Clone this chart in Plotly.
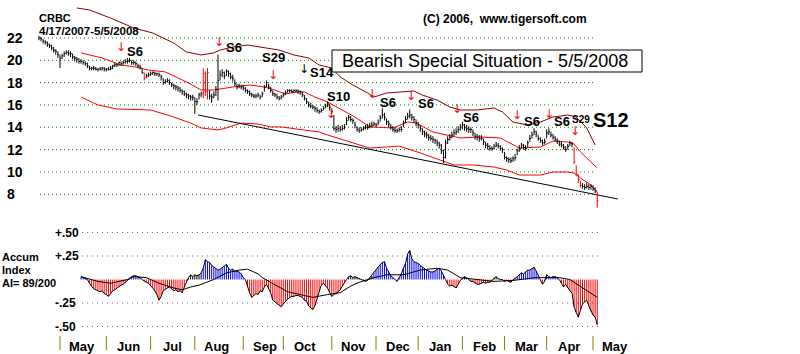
import plotly.graph_objects as go

W, H = 800, 354

# ---------------- data ----------------
months = ["May", "Jun", "Jul", "Aug", "Sep", "Oct", "Nov", "Dec", "Jan", "Feb", "Mar", "Apr", "May"]
month_start = [10, 32, 53, 74, 97, 116, 139, 160, 180, 201, 221, 241, 263]  # trading-day index

price_ticks = [22, 20, 18, 16, 14, 12, 10, 8]
ai_ticks = [0.5, 0.25, -0.25, -0.5]
ai_tick_labels = ["+.50", "+.25", "-.25", "-.50"]

# daily bars 4/17/2007 .. 5/5/2008 (index 0..265)
hi = [
    22.2, 22.1, 21.9, 21.8, 21.7, 21.5, 21.4, 21.2, 21.0, 20.8,
    20.5, 20.6, 20.8, 20.9, 20.9, 20.8, 20.6, 20.4, 20.3, 20.2,
    20.1, 20.0, 19.9, 19.8, 19.5, 19.4, 19.5, 19.4, 19.3, 19.4,
    19.4, 19.4, 19.3, 19.4, 19.5, 19.6, 19.8, 19.7, 19.9, 19.9,
    20.0, 20.1, 20.2, 20.2, 20.0, 20.0, 19.9, 19.7, 19.6, 19.3,
    18.9, 18.8, 18.9, 19.0, 19.0, 19.0, 18.9, 18.9, 18.7, 18.4,
    18.3, 18.4, 18.3, 18.0, 17.9, 17.8, 17.7, 17.6, 17.4, 17.3,
    17.1, 17.0, 16.9, 16.9, 16.7, 16.6, 17.1, 17.2, 19.3, 19.0,
    19.3, 17.3, 17.0, 17.2, 17.7, 20.5, 19.1, 19.2, 19.0, 19.2,
    19.1, 18.9, 18.7, 18.3, 17.9, 17.9, 17.8, 17.8, 17.6, 17.4,
    17.3, 17.1, 17.0, 17.0, 17.1, 16.9, 17.2, 17.8, 18.2, 17.9,
    17.6, 17.3, 17.1, 17.0, 16.8, 16.9, 17.1, 17.3, 17.4, 17.4,
    17.4, 17.4, 17.4, 17.4, 17.3, 17.2, 16.9, 16.6, 16.3, 16.2,
    16.0, 15.9, 15.8, 15.6, 15.7, 15.9, 16.1, 16.3, 16.1, 15.7,
    15.1, 14.1, 14.2, 14.1, 14.2, 14.3, 14.9, 15.1, 15.0, 14.8,
    14.5, 14.1, 14.0, 14.0, 14.1, 14.2, 14.3, 14.4, 14.5, 14.5,
    14.4, 14.7, 15.1, 15.7, 15.3, 14.8, 14.6, 14.3, 14.1, 14.0,
    13.9, 14.0, 14.1, 14.6, 15.0, 15.3, 15.6, 15.2, 15.0, 14.7,
    14.5, 14.2, 13.9, 13.7, 13.6, 13.4, 13.3, 13.2, 13.0, 12.9,
    12.7, 12.5, 12.0, 12.9, 13.2, 13.4, 13.6, 13.8, 13.9, 14.1,
    14.3, 14.5, 14.3, 14.2, 14.1, 14.0, 13.8, 13.5, 13.4, 13.3,
    13.3, 13.0, 12.7, 12.6, 12.4, 12.3, 12.5, 12.7, 12.6, 12.4,
    12.2, 11.8, 11.4, 11.3, 11.3, 11.4, 11.6, 12.1, 12.4, 12.6,
    12.5, 12.4, 12.8, 13.3, 13.6, 13.9, 13.7, 13.3, 13.1, 12.9,
    13.0, 13.8, 13.9, 13.6, 13.4, 13.2, 13.0, 12.8, 12.7, 12.5,
    12.3, 12.5, 12.8, 12.7, 12.2, 10.6, 9.8, 9.2, 9.0, 8.9,
    9.0, 8.9, 8.9, 8.8, 8.6, 8.2,
]
lo = [
    21.8, 21.7, 21.5, 21.4, 21.2, 21.1, 20.9, 20.7, 20.5, 20.2,
    19.3, 20.1, 20.3, 20.5, 20.4, 20.3, 20.1, 19.9, 19.8, 19.7,
    19.7, 19.6, 19.5, 19.3, 19.1, 19.1, 19.1, 19.1, 19.0, 19.1,
    19.1, 19.0, 19.0, 19.1, 19.1, 19.2, 19.4, 19.4, 19.5, 19.5,
    19.6, 19.7, 19.7, 19.8, 19.6, 19.6, 19.5, 19.3, 19.2, 18.8,
    18.2, 18.4, 18.5, 18.6, 18.7, 18.6, 18.6, 18.5, 18.2, 17.8,
    17.9, 18.0, 17.8, 17.6, 17.4, 17.3, 17.2, 17.1, 16.9, 16.8,
    16.6, 16.5, 16.4, 16.4, 15.2, 16.0, 16.5, 16.7, 16.6, 16.8,
    16.5, 16.5, 16.2, 16.6, 16.8, 16.4, 18.2, 18.5, 18.3, 18.6,
    18.5, 18.3, 18.1, 17.7, 17.4, 17.5, 17.4, 17.3, 17.1, 17.0,
    16.8, 16.7, 16.6, 16.6, 16.7, 16.5, 16.7, 17.2, 17.6, 17.4,
    17.1, 16.8, 16.7, 16.5, 16.4, 16.5, 16.7, 16.9, 17.1, 17.1,
    17.1, 17.1, 17.1, 17.0, 16.9, 16.7, 16.4, 16.1, 15.8, 15.7,
    15.6, 15.4, 15.3, 15.2, 15.3, 15.5, 15.7, 15.8, 15.5, 15.2,
    13.7, 13.5, 13.6, 13.6, 13.7, 13.8, 14.2, 14.6, 14.5, 14.3,
    13.9, 13.6, 13.5, 13.6, 13.7, 13.8, 13.8, 13.9, 14.0, 14.1,
    14.0, 14.2, 14.5, 14.8, 14.6, 14.2, 14.0, 13.8, 13.6, 13.5,
    13.5, 13.6, 13.6, 14.0, 14.4, 14.7, 14.8, 14.6, 14.4, 14.1,
    13.9, 13.6, 13.3, 13.1, 13.0, 12.8, 12.8, 12.6, 12.5, 12.3,
    12.1, 11.6, 10.8, 11.2, 12.5, 12.8, 13.0, 13.2, 13.3, 13.5,
    13.7, 13.8, 13.7, 13.6, 13.5, 13.5, 13.2, 12.9, 12.8, 12.7,
    12.8, 12.4, 12.1, 12.0, 11.9, 11.9, 12.0, 12.2, 12.1, 11.9,
    11.7, 11.1, 10.9, 10.8, 10.8, 10.9, 11.0, 11.5, 11.8, 12.1,
    12.0, 11.9, 12.2, 12.7, 13.0, 13.3, 13.1, 12.8, 12.6, 12.4,
    12.5, 13.0, 13.3, 13.1, 12.9, 12.7, 12.5, 12.3, 12.2, 12.0,
    11.8, 12.0, 12.3, 12.2, 10.7, 9.6, 9.0, 8.6, 8.5, 8.4,
    8.5, 8.4, 8.4, 8.3, 8.1, 6.8,
]
cl = [
    22.0, 21.9, 21.7, 21.6, 21.4, 21.3, 21.1, 20.9, 20.8, 20.5,
    20.2, 20.4, 20.6, 20.7, 20.6, 20.6, 20.3, 20.2, 20.1, 19.9,
    19.9, 19.8, 19.7, 19.5, 19.3, 19.3, 19.3, 19.2, 19.2, 19.2,
    19.3, 19.2, 19.2, 19.2, 19.3, 19.5, 19.6, 19.6, 19.8, 19.7,
    19.8, 19.9, 19.9, 20.0, 19.8, 19.8, 19.7, 19.5, 19.4, 18.9,
    18.4, 18.6, 18.7, 18.8, 18.9, 18.8, 18.8, 18.7, 18.5, 18.0,
    18.1, 18.2, 18.0, 17.8, 17.7, 17.6, 17.5, 17.3, 17.2, 17.0,
    16.9, 16.8, 16.7, 16.7, 16.3, 16.3, 16.9, 17.0, 18.8, 17.2,
    18.9, 16.8, 16.7, 16.9, 17.4, 18.2, 18.7, 18.9, 18.6, 19.0,
    18.8, 18.5, 18.4, 17.9, 17.6, 17.7, 17.6, 17.5, 17.3, 17.2,
    17.0, 16.9, 16.8, 16.8, 16.9, 16.7, 17.0, 17.6, 18.0, 17.6,
    17.3, 17.0, 16.9, 16.7, 16.6, 16.7, 16.9, 17.1, 17.3, 17.3,
    17.2, 17.3, 17.3, 17.2, 17.2, 16.9, 16.6, 16.3, 16.0, 15.9,
    15.8, 15.7, 15.5, 15.4, 15.5, 15.7, 15.9, 16.1, 15.8, 15.4,
    13.9, 13.8, 13.9, 13.8, 13.9, 14.0, 14.6, 14.9, 14.7, 14.6,
    14.2, 13.8, 13.7, 13.8, 13.9, 14.0, 14.0, 14.1, 14.2, 14.3,
    14.2, 14.4, 14.8, 15.1, 14.9, 14.5, 14.3, 14.0, 13.8, 13.7,
    13.7, 13.8, 13.8, 14.4, 14.7, 15.0, 15.1, 14.9, 14.7, 14.4,
    14.2, 13.9, 13.6, 13.4, 13.3, 13.1, 13.0, 12.9, 12.8, 12.6,
    12.4, 11.9, 11.3, 12.6, 12.9, 13.1, 13.3, 13.5, 13.6, 13.8,
    14.0, 14.2, 14.0, 13.9, 13.8, 13.8, 13.5, 13.2, 13.1, 13.0,
    13.0, 12.7, 12.4, 12.3, 12.1, 12.1, 12.3, 12.4, 12.3, 12.1,
    12.0, 11.3, 11.2, 11.1, 11.0, 11.2, 11.3, 11.9, 12.1, 12.4,
    12.2, 12.1, 12.6, 13.0, 13.3, 13.6, 13.4, 13.0, 12.8, 12.6,
    12.7, 13.5, 13.6, 13.3, 13.1, 12.9, 12.8, 12.5, 12.4, 12.2,
    12.0, 12.3, 12.6, 12.5, 10.9, 9.8, 9.3, 8.8, 8.7, 8.6,
    8.7, 8.6, 8.7, 8.5, 8.3, 7.4,
]
red_days = [50, 78, 79, 80, 254, 255, 256, 257, 265]

# bands (read at irregular dates)
upper_i = [18, 24, 34, 45, 54, 64, 70, 77, 83, 86, 92, 99, 105, 114, 121, 128, 133, 139, 143, 149,
           156, 159, 165, 171, 178, 182, 189, 195, 200, 208, 216, 220, 225, 232, 238, 244, 251, 255, 260, 264]
upper_v = [24.69, 24.51, 23.79, 22.90, 22.45, 21.55, 20.75, 20.48, 20.66, 20.92, 21.19, 21.37, 21.19, 20.92,
           20.48, 20.21, 19.58, 19.31, 18.51, 17.79, 17.07, 16.71, 17.07, 17.16, 17.25, 16.89, 16.44, 15.82,
           15.55, 15.55, 15.73, 15.37, 14.47, 14.20, 14.47, 14.92, 15.10, 14.92, 13.94, 12.41]
mid_i = [20, 30, 39, 46, 52, 60, 65, 71, 77, 83, 92, 100, 107, 112, 117, 122, 126, 131, 137, 144, 150,
         157, 168, 175, 179, 187, 194, 200, 209, 219, 228, 238, 244, 251, 254, 257, 262, 265]
mid_v = [20.66, 20.21, 19.58, 19.40, 19.13, 18.96, 18.51, 17.97, 17.34, 17.34, 17.61, 17.79, 17.61, 17.34,
         16.98, 17.16, 17.16, 16.71, 16.27, 15.55, 14.92, 14.03, 13.94, 14.47, 14.38, 13.58, 13.31, 13.04,
         13.13, 13.04, 12.14, 12.23, 12.77, 12.68, 12.50, 11.79, 10.89, 10.35]
low_i = [20, 28, 37, 53, 64, 72, 77, 85, 89, 96, 104, 110, 115, 125, 133, 137, 143, 149, 157, 165, 171,
         181, 190, 197, 206, 216, 222, 228, 238, 244, 251, 254, 257, 262, 265]
low_v = [16.71, 16.00, 15.64, 15.55, 14.92, 14.38, 13.94, 13.76, 13.94, 14.38, 14.29, 14.03, 14.03, 13.76,
         13.58, 13.31, 12.95, 12.59, 12.14, 12.23, 12.32, 11.70, 11.07, 10.62, 10.62, 10.44, 10.17, 9.72,
         9.72, 9.99, 9.99, 9.90, 9.46, 8.83, 8.20]
trend_i = [75.6, 274.8]
trend_v = [15.1, 7.57]

# accumulation index, daily from index 20
ai_start = 20
ai = [
    0.03, 0.02, 0.01, 0.00, -0.04, -0.07, -0.10, -0.11, -0.12, -0.13,
    -0.12, -0.15, -0.16, -0.18, -0.15, -0.12, -0.11, -0.09, -0.08, -0.06,
    -0.05, -0.03, -0.01, 0.02, 0.03, 0.04, 0.04, 0.03, 0.02, 0.00,
    -0.02, -0.03, -0.04, -0.06, -0.09, -0.12, -0.16, -0.22, -0.18, -0.12,
    -0.10, -0.09, -0.08, -0.10, -0.12, -0.11, -0.13, -0.12, -0.14, -0.08,
    -0.02, 0.02, 0.05, 0.03, 0.05, 0.04, 0.05, 0.07, 0.12, 0.21,
    0.19, 0.18, 0.15, 0.13, 0.12, 0.10, 0.11, 0.13, 0.14, 0.16,
    0.12, 0.10, 0.11, 0.09, 0.09, 0.08, 0.06, 0.02, 0.00, -0.08,
    -0.14, -0.19, -0.17, -0.15, -0.16, -0.12, -0.13, -0.08, -0.05, -0.10,
    -0.14, -0.22, -0.24, -0.25, -0.27, -0.29, -0.26, -0.23, -0.21, -0.19,
    -0.18, -0.18, -0.17, -0.17, -0.18, -0.19, -0.22, -0.23, -0.28, -0.30,
    -0.32, -0.28, -0.20, -0.13, -0.06, -0.04, -0.07, -0.09, -0.14, -0.18,
    -0.16, -0.15, -0.13, -0.11, -0.07, -0.03, 0.00, 0.03, 0.04, 0.02,
    0.03, 0.02, 0.01, 0.00, -0.01, -0.02, -0.01, 0.02, 0.04, 0.07,
    0.10, 0.13, 0.16, 0.18, 0.19, 0.12, 0.08, 0.04, 0.02, 0.00,
    -0.02, 0.02, 0.06, 0.12, 0.17, 0.27, 0.31, 0.22, 0.19, 0.18,
    0.17, 0.15, 0.13, 0.11, 0.10, 0.09, 0.08, 0.08, 0.09, 0.11,
    0.12, 0.09, 0.05, 0.00, -0.05, -0.07, -0.06, -0.08, -0.09, -0.05,
    -0.01, 0.01, 0.03, 0.02, 0.00, -0.02, -0.02, -0.04, -0.05, -0.05,
    -0.04, -0.03, -0.04, -0.03, -0.03, -0.01, 0.02, 0.03, 0.01, 0.00,
    0.00, -0.02, -0.01, -0.02, -0.03, 0.00, 0.01, 0.03, 0.05, 0.07,
    0.06, 0.08, 0.10, 0.10, 0.12, 0.13, 0.09, 0.04, 0.00, -0.05,
    -0.02, 0.05, 0.03, 0.02, 0.03, 0.03, 0.02, 0.00, -0.04, -0.08,
    -0.05, -0.09, -0.12, -0.14, -0.29, -0.35, -0.40, -0.33, -0.26, -0.24,
    -0.22, -0.28, -0.34, -0.38, -0.40, -0.48,
]
ai_black_days = [71, 72, 73, 74, 75, 76, 77, 147, 148, 149, 150, 151, 152, 157, 158,
                 201, 202, 203, 216, 217, 218, 226, 227]
ma_i = [20, 28, 34, 42, 45, 51, 57, 64, 68, 72, 76, 83, 89, 95, 99, 104, 106, 111, 118, 124,
        130, 137, 143, 148, 152, 159, 165, 173, 181, 189, 194, 200, 208, 216, 225, 236, 247, 252, 265]
ma_v = [0.03, -0.02, -0.04, 0.0, 0.03, 0.02, -0.04, -0.09, -0.11, -0.08, -0.06, 0.0, 0.07, 0.10, 0.11,
        0.06, 0.02, -0.04, -0.13, -0.16, -0.19, -0.16, -0.14, -0.07, -0.03, 0.02, 0.05, 0.05, 0.10, 0.12,
        0.10, 0.02, 0.0, -0.02, -0.01, 0.02, 0.02, 0.0, -0.19]

# ---------------- layout geometry ----------------
X0_PX, DAY_PX = 38.9, 2.107          # pixel of day 0, pixels per trading day
P_REF_PX, P_REF_V, P_UNIT = 38.0, 22.0, 11.16   # price scale
SPLIT_PX = 222.0                      # boundary between panels
AI_ZERO_PX, AI_UNIT = 279.5, 94.0

def pv(py):
    return P_REF_V - (py - P_REF_PX) / P_UNIT

def av(py):
    return (AI_ZERO_PX - py) / AI_UNIT

def fx(px):
    return px / W

def fy(py):
    return 1 - py / H

xr = [(0 - X0_PX) / DAY_PX, (W - X0_PX) / DAY_PX]
split = 1 - SPLIT_PX / H

FONT = "Arial, Liberation Sans, sans-serif"
RED = "#ff0000"
BLUE = "#0000ff"
MAROON = "#8b0000"

fig = go.Figure()

# bands
fig.add_trace(go.Scatter(x=upper_i, y=upper_v, mode="lines", line=dict(color=MAROON, width=1), yaxis="y"))
fig.add_trace(go.Scatter(x=mid_i, y=mid_v, mode="lines", line=dict(color=RED, width=1), yaxis="y"))
fig.add_trace(go.Scatter(x=low_i, y=low_v, mode="lines", line=dict(color=RED, width=1), yaxis="y"))
fig.add_trace(go.Scatter(x=trend_i, y=trend_v, mode="lines", line=dict(color="#000000", width=1), yaxis="y"))

# price bars
n = min(len(hi), len(lo), len(cl))
bx, by, rx, ry = [], [], [], []
for i in range(n):
    xs = [i, i, None, i, i + 0.6, None]
    ys = [lo[i], hi[i], None, cl[i], cl[i], None]
    if i in red_days:
        rx += xs; ry += ys
    else:
        bx += xs; by += ys
fig.add_trace(go.Scatter(x=bx, y=by, mode="lines", line=dict(color="#000000", width=1), yaxis="y"))
fig.add_trace(go.Scatter(x=rx, y=ry, mode="lines", line=dict(color=RED, width=1), yaxis="y"))

# accumulation index histogram
groups = {"r": ([], []), "b": ([], []), "k": ([], [])}
for k, v in enumerate(ai):
    i = ai_start + k
    g = "r" if v < 0 else ("k" if i in ai_black_days else "b")
    groups[g][0].extend([i, i, None])
    groups[g][1].extend([0, v, None])
for g, col in (("r", RED), ("b", BLUE), ("k", "#000000")):
    fig.add_trace(go.Scatter(x=groups[g][0], y=groups[g][1], mode="lines",
                             line=dict(color=col, width=1), yaxis="y2"))
fig.add_trace(go.Scatter(x=list(range(ai_start, ai_start + len(ai))), y=ai, mode="lines",
                         line=dict(color="#000000", width=1), yaxis="y2"))
fig.add_trace(go.Scatter(x=ma_i, y=ma_v, mode="lines", line=dict(color="#000000", width=1), yaxis="y2"))

shapes = []
annotations = []

# gridlines
for v in price_ticks:
    shapes.append(dict(type="line", xref="paper", yref="y", x0=fx(40), x1=fx(595), y0=v, y1=v,
                       line=dict(color="#008000", width=1, dash="1px,3px"), layer="below"))
    annotations.append(dict(text="<b>%d</b>" % v, xref="paper", yref="y", x=fx(5), y=v,
                            xanchor="left", yanchor="middle", showarrow=False,
                            font=dict(family=FONT, size=14, color="#000000")))
for v, t in zip(ai_ticks, ai_tick_labels):
    shapes.append(dict(type="line", xref="paper", yref="y2", x0=fx(82), x1=fx(598), y0=v, y1=v,
                       line=dict(color="#8a5a8a", width=1, dash="1px,4px"), layer="below"))
    annotations.append(dict(text="<b>%s</b>" % t, xref="paper", yref="y2", x=fx(53), y=v,
                            xanchor="left", yanchor="middle", showarrow=False,
                            font=dict(family=FONT, size=12, color="#000000")))

# month ticks and labels
for m, s in zip(months, month_start):
    shapes.append(dict(type="line", xref="x", yref="paper", x0=s, x1=s, y0=fy(350), y1=fy(336),
                       line=dict(color="#808000", width=1)))
    annotations.append(dict(text="<b>%s</b>" % m, xref="x", yref="paper", x=s + 10.5, y=fy(346),
                            xanchor="center", yanchor="middle", showarrow=False,
                            font=dict(family=FONT, size=13, color="#000000")))

# title box
shapes.append(dict(type="rect", xref="paper", yref="paper", x0=fx(332), x1=fx(642), y0=fy(72), y1=fy(50),
                   fillcolor="#ffffff", line=dict(color="#000000", width=1), layer="above"))

def txt(s, px, py, size, bold=True, color="#000000", xanchor="left", yanchor="middle", family=FONT):
    annotations.append(dict(text=("<b>%s</b>" % s) if bold else s, xref="paper", yref="paper",
                            x=fx(px), y=fy(py), xanchor=xanchor, yanchor=yanchor, showarrow=False,
                            font=dict(family=family, size=size, color=color)))

txt("Bearish Special Situation - 5/5/2008", 485, 61, 18, bold=False, xanchor="center")
txt("CRBC", 37, 18, 11)
txt("4/17/2007-5/5/2008", 37, 31, 11.5)
txt("(C) 2006,  www.tigersoft.com", 421, 19, 12)
txt("Accum", 0, 257, 11)
txt("Index", 0, 270, 11)
txt("AI= 89/200", 0, 283, 11)

# signals: (label, label centre px, arrow px, arrow colour)
signals = [
    ("S6", (135, 52), (121, 47), RED),
    ("S6", (234, 48), (219, 42), RED),
    ("S29", (273, 57), (273, 75), RED),
    ("S14", (322, 72), (304, 69), "#000000"),
    ("S10", (338, 97), (331, 114), RED),
    ("S6", (388, 102), (372, 94), RED),
    ("S6", (426, 103), (411, 96), RED),
    ("S6", (471, 117), (457, 109), RED),
    ("S6", (532, 121), (517, 115), RED),
    ("S6", (562, 121), (549, 114), RED),
]
for lab, (lx, ly), (ax, ay), col in signals:
    txt("↓", ax, ay, 12, bold=False, color=col, xanchor="center", family="DejaVu Sans")
    txt(lab, lx, ly, 13, xanchor="center")
txt("↓", 575, 131, 12, bold=False, color=RED, xanchor="center", family="DejaVu Sans")
txt("S29", 581, 119, 10, xanchor="center")
txt("S12", 611, 120, 20, xanchor="center")

axis_off = dict(showgrid=False, zeroline=False, showticklabels=False, showline=False, ticks="", fixedrange=True)
fig.update_layout(
    width=W, height=H, autosize=False,
    margin=dict(l=0, r=0, t=0, b=0, pad=0),
    paper_bgcolor="#ffffff", plot_bgcolor="#ffffff",
    showlegend=False,
    xaxis=dict(range=xr, domain=[0, 1], **axis_off),
    yaxis=dict(range=[pv(SPLIT_PX), pv(0)], domain=[split, 1], **axis_off),
    yaxis2=dict(range=[av(H), av(SPLIT_PX)], domain=[0, split], **axis_off),
    shapes=shapes, annotations=annotations,
)

fig.write_html("out.html")
